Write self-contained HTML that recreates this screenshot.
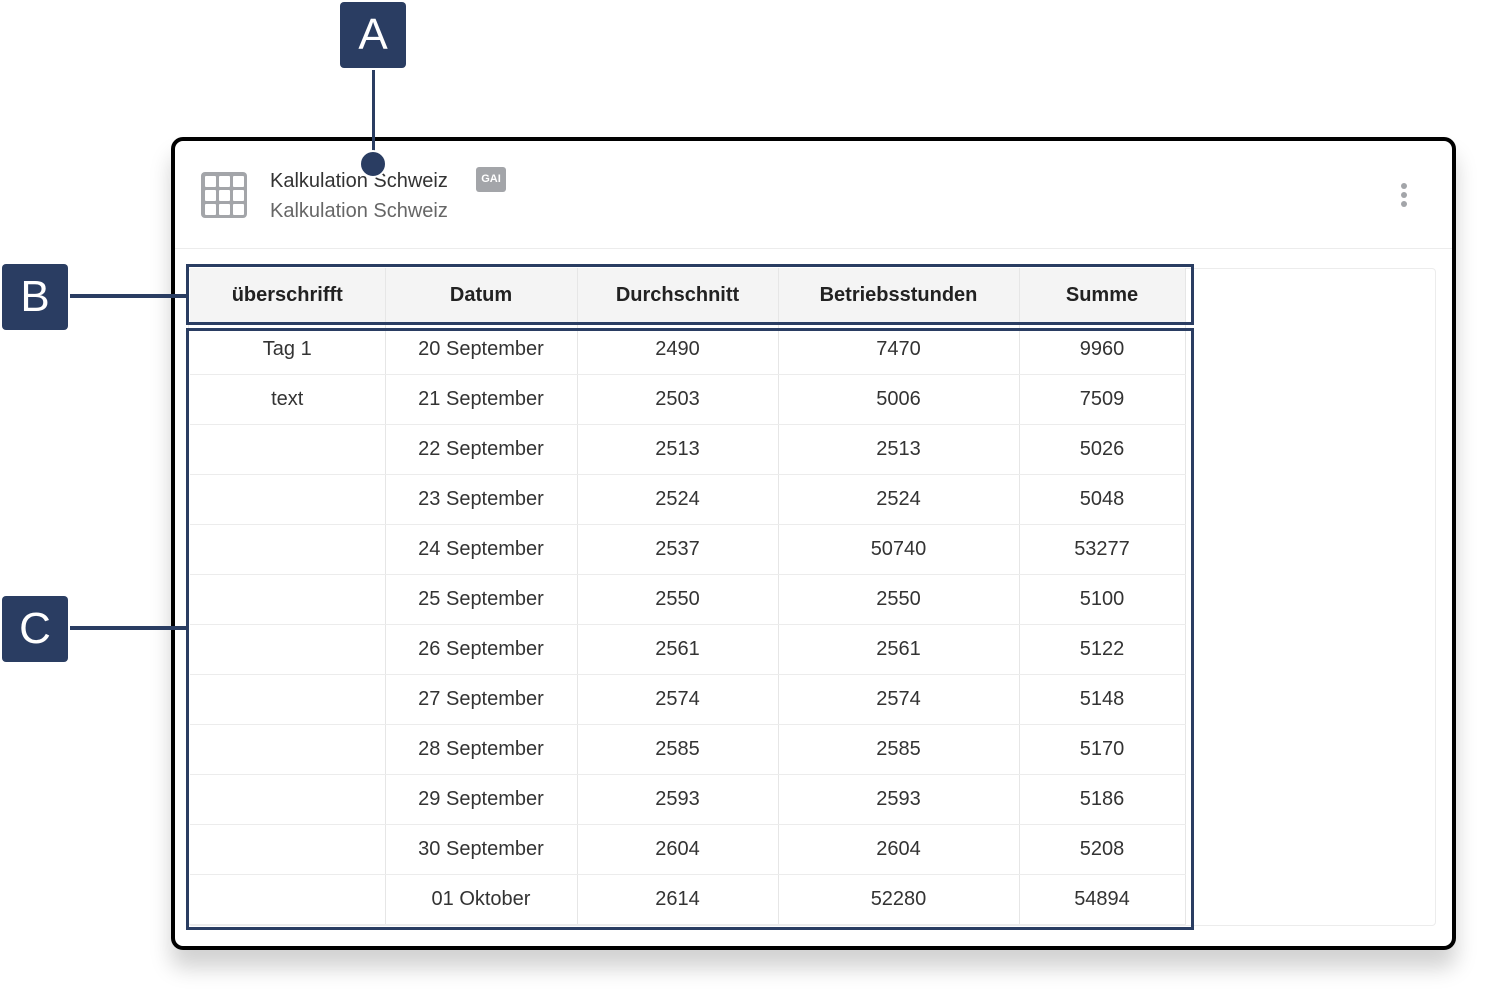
<!DOCTYPE html>
<html><head><meta charset="utf-8"><style>
*{margin:0;padding:0;box-sizing:border-box}
body{width:1496px;height:996px;background:#fff;position:relative;overflow:hidden;font-family:"Liberation Sans",sans-serif;color:#333}
.card{position:absolute;left:171px;top:137px;width:1285px;height:813px;border:4px solid #000;border-radius:12px;background:#fff;box-shadow:0 18px 22px rgba(0,0,0,0.18)}
.hsep{position:absolute;left:175px;top:248px;width:1277px;height:1px;background:#ececec}
.panel{position:absolute;left:188px;top:268px;width:1248px;height:658px;border:1px solid #ececec;border-radius:4px}
.icon{position:absolute;left:201px;top:172px;width:46px;height:46px;background:#a3a5a9;border-radius:4px}
.icon i{position:absolute;width:11px;height:11px;background:#fff;border-radius:1px}
.t1{position:absolute;left:270px;top:170px;font-size:20px;color:#333}
.t2{position:absolute;left:270px;top:200px;font-size:20px;color:#666}
.gai{position:absolute;left:476px;top:167px;width:30px;height:25px;background:#a3a5a9;border-radius:3px;color:#fff;font-size:11px;font-weight:bold;text-align:center;line-height:24px}
.dots{position:absolute;left:1401px;top:183px}
.dots i{display:block;width:6px;height:6px;border-radius:50%;background:#a3a5a9;margin-bottom:3px}
table{position:absolute;left:190px;top:268px;border-collapse:collapse;font-size:20px}
td,th{text-align:center;border-right:1px solid #e6e6e6;border-bottom:1px solid #ececec;height:50px;padding:0}
th{background:#f4f4f4;height:56px;font-weight:bold;color:#222}
.box{position:absolute;border:3px solid #2a3d62}
.lbl{position:absolute;width:66px;height:66px;background:#2a3d62;border-radius:4px;color:#fff;font-size:44px;text-align:center;line-height:66px;box-shadow:0 0 0 2px #fff}
.ln{position:absolute;background:#2a3d62}
</style></head><body>
<div class="card"></div>
<div class="hsep"></div>
<div class="panel"></div>
<div class="icon">
<i style="left:4px;top:4px"></i><i style="left:18px;top:4px"></i><i style="left:32px;top:4px"></i>
<i style="left:4px;top:18px"></i><i style="left:18px;top:18px"></i><i style="left:32px;top:18px"></i>
<i style="left:4px;top:32px"></i><i style="left:18px;top:32px"></i><i style="left:32px;top:32px"></i>
</div>
<div class="t1">Kalkulation Schweiz</div>
<div class="t2">Kalkulation Schweiz</div>
<div class="gai">GAI</div>
<div class="dots"><i></i><i></i><i></i></div>
<table>
<colgroup><col style="width:195px"><col style="width:192px"><col style="width:201px"><col style="width:241px"><col style="width:166px"></colgroup>
<tr><th>überschrifft</th><th>Datum</th><th>Durchschnitt</th><th>Betriebsstunden</th><th>Summe</th></tr>
<tr><td>Tag 1</td><td>20 September</td><td>2490</td><td>7470</td><td>9960</td></tr>
<tr><td>text</td><td>21 September</td><td>2503</td><td>5006</td><td>7509</td></tr>
<tr><td></td><td>22 September</td><td>2513</td><td>2513</td><td>5026</td></tr>
<tr><td></td><td>23 September</td><td>2524</td><td>2524</td><td>5048</td></tr>
<tr><td></td><td>24 September</td><td>2537</td><td>50740</td><td>53277</td></tr>
<tr><td></td><td>25 September</td><td>2550</td><td>2550</td><td>5100</td></tr>
<tr><td></td><td>26 September</td><td>2561</td><td>2561</td><td>5122</td></tr>
<tr><td></td><td>27 September</td><td>2574</td><td>2574</td><td>5148</td></tr>
<tr><td></td><td>28 September</td><td>2585</td><td>2585</td><td>5170</td></tr>
<tr><td></td><td>29 September</td><td>2593</td><td>2593</td><td>5186</td></tr>
<tr><td></td><td>30 September</td><td>2604</td><td>2604</td><td>5208</td></tr>
<tr><td></td><td>01 Oktober</td><td>2614</td><td>52280</td><td>54894</td></tr>
</table>
<div class="box" style="left:186px;top:264px;width:1008px;height:61px"></div>
<div class="box" style="left:186px;top:328px;width:1008px;height:602px"></div>
<div class="ln" style="left:372px;top:68px;width:3px;height:95px"></div>
<div style="position:absolute;left:359px;top:150px;width:28px;height:28px;border-radius:50%;background:#2a3d62;border:2px solid #fff"></div>
<div class="ln" style="left:68px;top:294px;width:120px;height:4px"></div>
<div class="ln" style="left:68px;top:626px;width:120px;height:4px"></div>
<div class="lbl" style="left:340px;top:2px">A</div>
<div class="lbl" style="left:2px;top:264px">B</div>
<div class="lbl" style="left:2px;top:596px">C</div>
</body></html>
